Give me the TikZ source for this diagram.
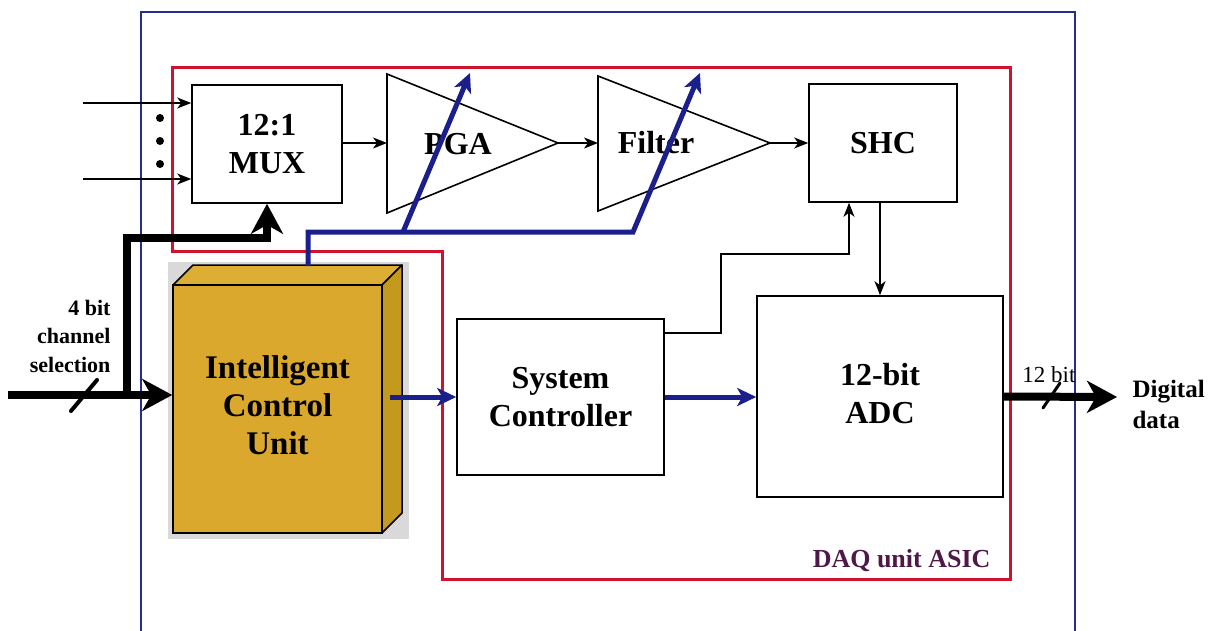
\documentclass[tikz,border=0pt]{standalone}
\usepackage{fontspec}
\setmainfont{Liberation Serif}
\usetikzlibrary{arrows.meta}
\definecolor{asicred}{HTML}{D0122C}
\definecolor{chipblue}{HTML}{22308C}
\definecolor{ctrlblue}{HTML}{1A1F8C}
\definecolor{gold}{HTML}{D9A82C}
\definecolor{goldtop}{HTML}{DDAE34}
\definecolor{goldside}{HTML}{C49A1E}
\definecolor{labelpurple}{HTML}{4E1848}
\tikzset{
  block/.style={draw, line width=1.6pt, fill=white, inner sep=0pt,
    font=\fontsize{32}{38}\selectfont\bfseries, align=center},
  sig/.style={line width=1.5pt, -{Stealth[length=14pt,width=11pt,inset=4pt]}},
  ctrl/.style={line width=5pt, ctrlblue, -{Stealth[length=19pt,width=18pt,inset=5pt]}},
  bus/.style={line width=8pt, -{Stealth[length=30pt,width=32pt,inset=9pt]}},
  tick/.style={line width=4pt, line cap=round},
  amp/.style={line width=1.6pt, line join=miter},
  lbl/.style={font=\fontsize{32}{38}\selectfont\bfseries, align=center},
  side/.style={font=\fontsize{22}{28.5}\selectfont\bfseries, align=right},
}
\begin{document}
\begin{tikzpicture}[x=1pt,y=-1pt]
\useasboundingbox (0,0) rectangle (1220,631);

% chip outline
\draw[chipblue, line width=1.6pt] (141,640) -- (141,12) -- (1075,12) -- (1075,640);

% ASIC outline
\draw[asicred, line width=3pt, line join=miter]
  (172,68) -- (1010,68) -- (1010,579) -- (442,579) -- (442,251) -- (172,251) -- cycle;
\node[anchor=base east, font=\fontsize{26}{30}\selectfont\bfseries, text=labelpurple]
  (asiclbl) at (994,567) {DAQ unit ASIC};

% intelligent control unit (3D block)
\fill[gray!30] (168,262) rectangle (409,539);
\draw[line width=1.5pt, fill=goldtop, line join=round] (173,285) -- (193,265) -- (402,265) -- (382,285) -- cycle;
\draw[line width=1.5pt, fill=goldside, line join=round] (382,285) -- (402,265) -- (402,513) -- (382,533) -- cycle;
\node[draw, line width=1.5pt, fill=gold, minimum width=209pt, minimum height=248pt,
  inner sep=0pt, font=\fontsize{33}{38.5}\selectfont\bfseries, align=center]
  (icu) at (277.5,409) {\raisebox{8pt}{\begin{tabular}{@{}c@{}}Intelligent\\[-0.5pt]Control\\[-0.5pt]Unit\end{tabular}}};

% blocks
\node[block, minimum width=150pt, minimum height=118pt] (mux) at (267,144) {12:1\\MUX};
\node[block, minimum width=148pt, minimum height=118pt] (shc) at (883,143) {SHC};
\node[block, minimum width=246pt, minimum height=201pt] (adc) at (880,396.5) {\raisebox{7pt}{\begin{tabular}{@{}c@{}}12-bit\\ADC\end{tabular}}};
\node[block, minimum width=207pt, minimum height=156pt] (sc) at (560.5,397) {System\\Controller};

% amplifier stages
\coordinate (pgaL) at (387,143);
\coordinate (pgaT) at (558,143);
\draw[amp] (387,74) -- (pgaT) -- (387,213) -- cycle;
\node[lbl, anchor=base] (pga) at (458,155) {PGA};
\coordinate (filL) at (598,143);
\coordinate (filT) at (770,143);
\draw[amp] (598,76) -- (filT) -- (598,211) -- cycle;
\node[lbl, anchor=base] (fil) at (656,154) {Filter};

% analog inputs
\coordinate (in1) at (83,103);
\coordinate (in12) at (83,179);
\draw[sig] (in1) -- (in1 -| mux.west);
\draw[sig] (in12) -- (in12 -| mux.west);
\foreach \yy in {118,141,164} \fill (160,\yy) circle (4pt);

% signal chain
\draw[sig] (mux.east |- pgaL) -- (pgaL);
\draw[sig] (pgaT) -- (filL);
\draw[sig] (filT) -- (filT -| shc.west);
\draw[sig] (shc.south -| adc.north) -- (adc.north);
\coordinate (j1) at (721,254);
\draw[sig] ([yshift=-15pt]sc.north east) -| (j1) -| ([xshift=-34pt]shc.south);

% control (blue)
\coordinate (cstart) at (308,266);
\coordinate (cbend) at (308,232);
\coordinate (cbr) at (403,232);
\coordinate (cend) at (633,232);
\coordinate (pgaCtl) at (470,73);
\coordinate (filCtl) at (700,73);
\draw[ctrl, line join=miter] (cstart) -- (cbend) -- (cend) -- (filCtl);
\draw[ctrl] (cbr) -- (pgaCtl);
\coordinate (icuout) at (390,397);
\draw[ctrl] (icuout) -- (sc.west);
\draw[ctrl] (sc.east) -- (sc.east -| adc.west);

% channel selection bus
\coordinate (selin) at (8,395);
\coordinate (selup) at (127,399);
\coordinate (selturn) at (127,238);
\draw[bus] (selin) -- (selin -| icu.west);
\draw[line width=8pt, -{Stealth[length=30pt,width=32pt,inset=9pt]}, line join=miter]
  (selup) -- (selturn) -| (mux.south);
\draw[tick] (71,411) -- (97,380);
\node[side, anchor=east] (sellbl) at (114,336) {4 bit\\channel\\selection};

% digital output bus
\coordinate (dout) at (1117,397);
\draw[bus] (adc.east) -- (dout);
\draw[tick, line width=3pt] (1043,408) -- (1060,383);
\node[anchor=base, font=\fontsize{23}{26}\selectfont] (outbits) at (1049,382) {12 bit};
\node[anchor=west, font=\fontsize{25}{31}\selectfont\bfseries, align=left] (outlbl) at (1129,404) {Digital\\data};
\end{tikzpicture}
\end{document}
